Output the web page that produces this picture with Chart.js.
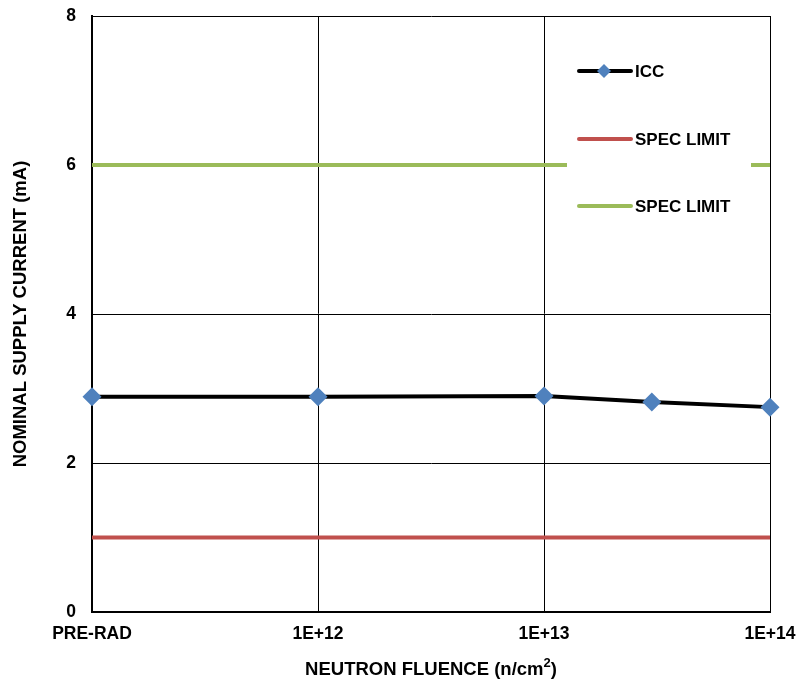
<!DOCTYPE html>
<html>
<head>
<meta charset="utf-8">
<script src="https://cdn.jsdelivr.net/npm/chart.js@4/dist/chart.umd.min.js"></script>
<style>
  html, body { margin: 0; padding: 0; background: #fff; }
  #wrap { width: 797px; height: 683px; }
</style>
</head>
<body>
<div id="wrap"><canvas id="supplyChart" width="797" height="683"></canvas></div>
<script>
// fluence values (PRE-RAD plotted at 1E+11 on the log axis)
const fluence = [1e11, 1e12, 1e13, 3e13, 1e14];
const iccValues = [2.89, 2.89, 2.90, 2.82, 2.75];
const specLow = [1, 1];
const specHigh = [6, 6];
const specRange = [1e11, 1e14];
const xTicks = [1e11, 1e12, 1e13, 1e14];
const xTickLabels = ['PRE-RAD', '1E+12', '1E+13', '1E+14'];
const legendLabels = ['ICC', 'SPEC LIMIT', 'SPEC LIMIT'];

const FONT = '"Liberation Sans", Arial, sans-serif';
const BLUE = '#4F81BD', RED = '#C0504D', GREEN = '#9BBB59';

// legend drawn inside the plot, with a white box that cuts the green line
const legendPlugin = {
    id: 'boxLegend',
    afterDatasetsDraw(chart) {
        const c = chart.ctx;
        c.save();
        c.fillStyle = '#fff';
        c.fillRect(567, 40, 184, 190);
        const rows = [
            { y: 71, color: '#000', marker: true },
            { y: 139, color: RED },
            { y: 206, color: GREEN }
        ];
        rows.forEach((r, i) => {
            c.strokeStyle = r.color;
            c.lineWidth = 4;
            c.lineCap = 'round';
            c.beginPath();
            c.moveTo(579, r.y);
            c.lineTo(631, r.y);
            c.stroke();
            if (r.marker) {
                c.fillStyle = BLUE;
                c.beginPath();
                c.moveTo(604, r.y - 7);
                c.lineTo(611, r.y);
                c.lineTo(604, r.y + 7);
                c.lineTo(597, r.y);
                c.closePath();
                c.fill();
            }
            c.fillStyle = '#000';
            c.font = 'bold 17px ' + FONT;
            c.textBaseline = 'middle';
            c.textAlign = 'left';
            c.fillText(legendLabels[i], 635, r.y + 1);
        });
        c.restore();
    },
    afterDraw(chart) {
        // x axis title with a real superscript
        const c = chart.ctx;
        const area = chart.chartArea;
        c.save();
        c.fillStyle = '#000';
        c.textBaseline = 'alphabetic';
        c.textAlign = 'left';
        c.font = 'bold 18.5px ' + FONT;
        const main = 'NEUTRON FLUENCE (n/cm';
        const wMain = c.measureText(main).width;
        c.font = 'bold 13px ' + FONT;
        const wSup = c.measureText('2').width;
        c.font = 'bold 18.5px ' + FONT;
        const wEnd = c.measureText(')').width;
        let x = (area.left + area.right) / 2 - (wMain + wSup + wEnd) / 2;
        const y = 675;
        c.fillText(main, x, y);
        c.font = 'bold 13px ' + FONT;
        c.fillText('2', x + wMain, y - 8);
        c.font = 'bold 18.5px ' + FONT;
        c.fillText(')', x + wMain + wSup, y);
        c.restore();
    }
};

const ctx = document.getElementById('supplyChart').getContext('2d');
new Chart(ctx, {
    type: 'line',
    data: {
        datasets: [{
            label: legendLabels[0],
            data: fluence.map((f, i) => ({ x: f, y: iccValues[i] })),
            borderColor: '#000',
            borderWidth: 4,
            pointStyle: 'rectRot',
            pointRadius: 9.5,
            pointBackgroundColor: BLUE,
            pointBorderColor: BLUE,
            pointBorderWidth: 0,
            tension: 0,
            order: 0
        }, {
            label: legendLabels[1],
            data: specRange.map((f, i) => ({ x: f, y: specLow[i] })),
            borderColor: RED,
            borderWidth: 4,
            pointRadius: 0,
            order: 1
        }, {
            label: legendLabels[2],
            data: specRange.map((f, i) => ({ x: f, y: specHigh[i] })),
            borderColor: GREEN,
            borderWidth: 4,
            pointRadius: 0,
            order: 2
        }]
    },
    options: {
        responsive: false,
        animation: false,
        clip: false,
        layout: { padding: { top: 16, right: 27, left: 0, bottom: 0 } },
        plugins: {
            legend: { display: false },
            tooltip: { enabled: false }
        },
        scales: {
            x: {
                type: 'logarithmic',
                min: 1e11,
                max: 1e14,
                afterBuildTicks: scale => {
                    scale.ticks = xTicks.map(v => ({ value: v }));
                },
                afterFit: scale => {
                    scale.height = 71;
                    scale.paddingLeft = 0;
                    scale.paddingRight = 0;
                },
                ticks: {
                    autoSkip: false,
                    maxRotation: 0,
                    padding: 12,
                    color: '#000',
                    font: { family: FONT, size: 17.5, weight: 'bold' },
                    callback: v => xTickLabels[xTicks.indexOf(v)]
                },
                grid: { color: '#000', lineWidth: 1, drawTicks: false },
                border: { color: '#000', width: 2 }
            },
            y: {
                min: 0,
                max: 8,
                afterFit: scale => {
                    scale.width = 92;
                    scale.paddingTop = 0;
                    scale.paddingBottom = 0;
                },
                ticks: {
                    stepSize: 2,
                    padding: 16,
                    color: '#000',
                    font: { family: FONT, size: 17.5, weight: 'bold' }
                },
                grid: { color: '#000', lineWidth: 1, drawTicks: false },
                border: { color: '#000', width: 2 },
                title: {
                    display: true,
                    text: 'NOMINAL SUPPLY CURRENT (mA)',
                    color: '#000',
                    font: { family: FONT, size: 18.5, weight: 'bold' },
                    padding: { top: 10, bottom: 0 }
                }
            }
        }
    },
    plugins: [legendPlugin]
});
</script>
</body>
</html>
